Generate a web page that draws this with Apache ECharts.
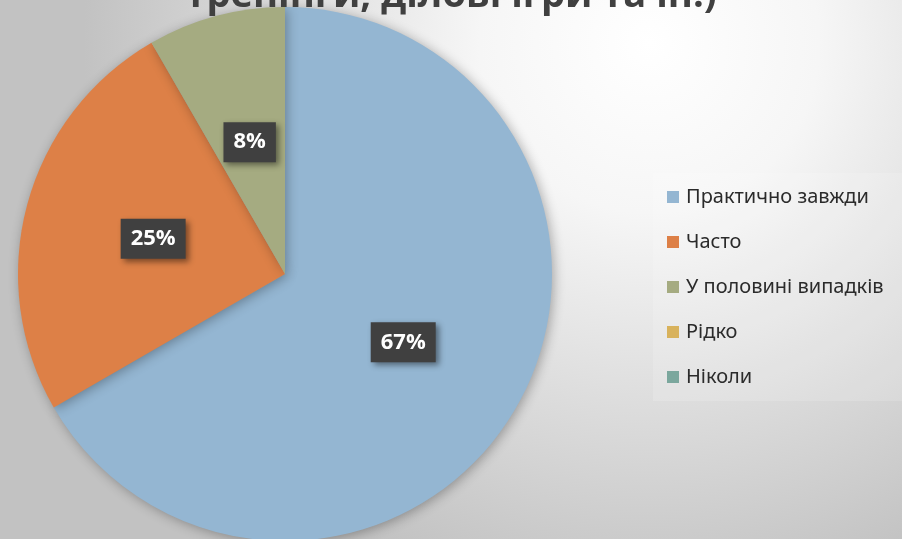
<!DOCTYPE html>
<html><head><meta charset="utf-8">
<script src="https://cdn.jsdelivr.net/npm/echarts@6/dist/echarts.min.js"></script>
<style>html,body{margin:0;padding:0;}#c{width:902px;height:539px;}</style>
</head><body><div id="c"></div>
<script>
const titleText = 'тренінги, ділові ігри та ін.)';
const categories = ['Практично завжди', 'Часто', 'У половині випадків', 'Рідко', 'Ніколи'];
const values = [8, 3, 1, 0, 0];
const colors = ['#94B6D2', '#DD8047', '#A5AB81', '#D8B25C', '#7BA79D'];

const chart = echarts.init(document.getElementById('c'));
chart.setOption({
  backgroundColor: {
    type: 'radial', x: 0.72, y: 0.08, r: 1.05,
    colorStops: [{offset: 0, color: '#ffffff'}, {offset: 0.3, color: '#f6f6f6'}, {offset: 1, color: '#c2c2c2'}]
  },
  color: colors,
  title: {
    text: titleText, left: 'center', top: -28,
    textStyle: {fontFamily: 'Open Sans', fontWeight: 'bold', fontSize: 38, color: '#404040'}
  },
  legend: {
    orient: 'vertical', left: 653, top: 173, right: 0,
    padding: [14, 30, 14, 14],
    backgroundColor: 'rgba(255,255,255,0.15)',
    itemWidth: 12, itemHeight: 12, itemGap: 25,
    icon: 'rect',
    textStyle: {fontFamily: 'Noto Sans', fontSize: 20, color: '#2b2b2b', padding: [0,0,0,2]},
    data: categories
  },
  series: [{
    type: 'pie', center: [285, 274], radius: 267,
    startAngle: 90, clockwise: true, avoidLabelOverlap: false,
    itemStyle: {shadowBlur: 12, shadowColor: 'rgba(0,0,0,0.3)', shadowOffsetX: 2, shadowOffsetY: 2},
    label: {
      position: 'inside',
      formatter: p => Math.round(p.percent) + '%',
      fontFamily: 'Open Sans', fontWeight: 'bold', fontSize: 22, color: '#ffffff',
      backgroundColor: '#404040', padding: [10, 10, 8, 10],
      shadowBlur: 6, shadowColor: 'rgba(0,0,0,0.45)', shadowOffsetX: 3, shadowOffsetY: 3
    },
    labelLine: {show: false},
    emphasis: {disabled: true},
    data: categories.map((n, i) => ({name: n, value: values[i], label: {show: values[i] > 0}}))
  }]
});
</script></body></html>
